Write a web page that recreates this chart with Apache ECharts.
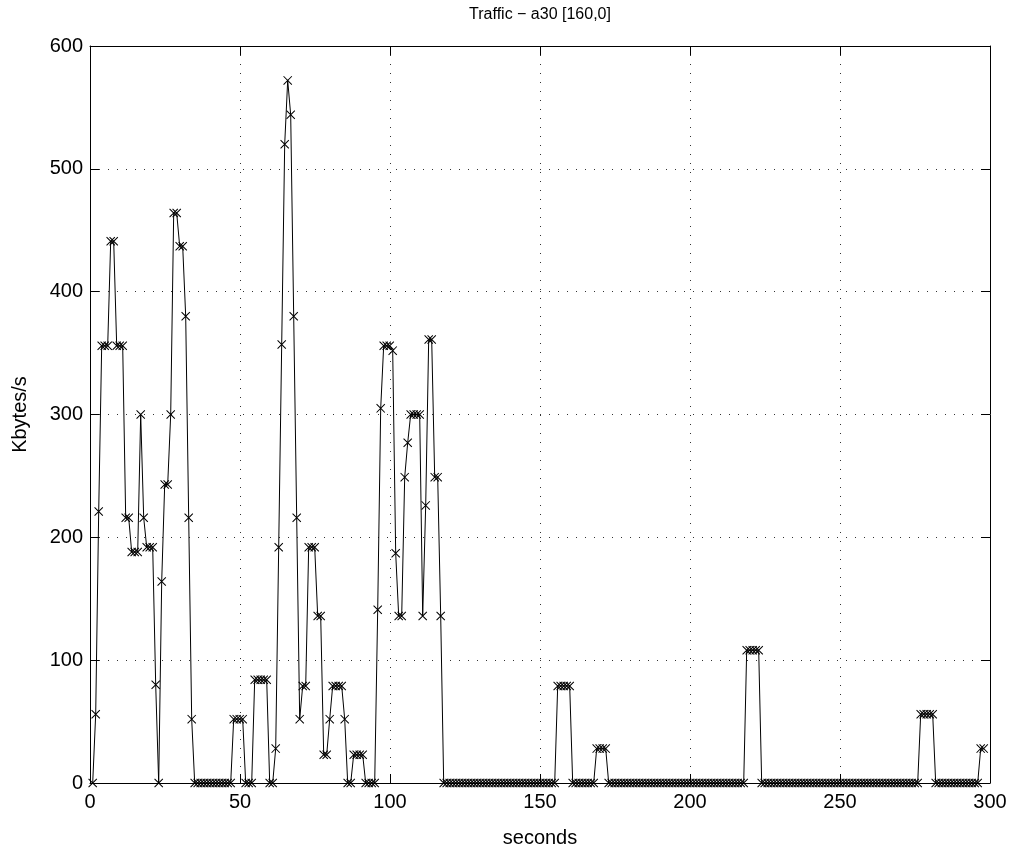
<!DOCTYPE html>
<html><head><meta charset="utf-8">
<script src="https://cdn.jsdelivr.net/npm/echarts@6/dist/echarts.min.js"></script>
<style>html,body{margin:0;padding:0;background:#fff}#c{width:1011px;height:853px}</style>
</head><body><div id="c"></div>
<script>
const chartTitle = 'Traffic \u2212 a30 [160,0]';
const xLabel = 'seconds';
const yLabel = 'Kbytes/s';
const xTicks = [0, 50, 100, 150, 200, 250, 300];
const yTicks = [0, 100, 200, 300, 400, 500, 600];
const sampleStart = 0.9;
const sampleStep = 1;
const traffic = [
  0, 56, 221, 356, 356, 356, 441, 441, 356, 356,
  356, 216, 216, 188, 188, 188, 300, 216, 192, 192,
  192, 80, 0, 164, 243, 243, 300, 464, 464, 437,
  437, 380, 216, 52, 0, 0, 0, 0, 0, 0,
  0, 0, 0, 0, 0, 0, 0, 52, 52, 52,
  52, 0, 0, 0, 84, 84, 84, 84, 84, 0,
  0, 28, 192, 357, 520, 572, 544, 380, 216, 52,
  79, 79, 192, 192, 192, 136, 136, 23, 23, 52,
  79, 79, 79, 79, 52, 0, 0, 23, 23, 23,
  23, 0, 0, 0, 0, 141, 305, 356, 356, 356,
  352, 187, 136, 136, 249, 277, 300, 300, 300, 300,
  136, 226, 361, 361, 249, 249, 136, 0, 0, 0,
  0, 0, 0, 0, 0, 0, 0, 0, 0, 0,
  0, 0, 0, 0, 0, 0, 0, 0, 0, 0,
  0, 0, 0, 0, 0, 0, 0, 0, 0, 0,
  0, 0, 0, 0, 0, 79, 79, 79, 79, 79,
  0, 0, 0, 0, 0, 0, 0, 0, 28, 28,
  28, 28, 0, 0, 0, 0, 0, 0, 0, 0,
  0, 0, 0, 0, 0, 0, 0, 0, 0, 0,
  0, 0, 0, 0, 0, 0, 0, 0, 0, 0,
  0, 0, 0, 0, 0, 0, 0, 0, 0, 0,
  0, 0, 0, 0, 0, 0, 0, 0, 108, 108,
  108, 108, 108, 0, 0, 0, 0, 0, 0, 0,
  0, 0, 0, 0, 0, 0, 0, 0, 0, 0,
  0, 0, 0, 0, 0, 0, 0, 0, 0, 0,
  0, 0, 0, 0, 0, 0, 0, 0, 0, 0,
  0, 0, 0, 0, 0, 0, 0, 0, 0, 0,
  0, 0, 0, 0, 0, 0, 56, 56, 56, 56,
  56, 0, 0, 0, 0, 0, 0, 0, 0, 0,
  0, 0, 0, 0, 0, 0, 28, 28
];

const FONT = "'Liberation Sans', Arial, Helvetica, sans-serif";
const seriesData = traffic.map((v, i) => [sampleStart + i * sampleStep, v]);
const xStep = xTicks[1] - xTicks[0];
const yStep = yTicks[1] - yTicks[0];

const chart = echarts.init(document.getElementById('c'), null, {renderer: 'canvas'});

const gridDots = {show: true, lineStyle: {color: '#333', width: 1, type: [1, 8]}};
const axisCommon = {
  axisLine: {show: true, onZero: false, lineStyle: {color: '#000', width: 1}},
  axisTick: {show: true, inside: true, length: 9, lineStyle: {color: '#000', width: 1}},
};

chart.setOption({
  animation: false,
  backgroundColor: '#fff',
  grid: {left: 90, right: 21, top: 46, bottom: 65.5, containLabel: false},
  graphic: [{
    type: 'text', x: 540, y: 15,
    style: {text: chartTitle, textAlign: 'center', textVerticalAlign: 'middle',
            font: '16px ' + FONT, fill: '#000'}
  }],
  xAxis: [
    Object.assign({
      type: 'value', position: 'bottom', min: xTicks[0], max: xTicks[xTicks.length - 1], interval: xStep,
      name: xLabel, nameLocation: 'middle', nameGap: 45,
      nameTextStyle: {color: '#000', fontSize: 20, fontFamily: FONT},
      axisLabel: {color: '#000', fontSize: 20, fontFamily: FONT, margin: 9},
      splitLine: gridDots
    }, axisCommon),
    Object.assign({
      type: 'value', position: 'top', min: xTicks[0], max: xTicks[xTicks.length - 1], interval: xStep,
      axisLabel: {show: false}, splitLine: {show: false}
    }, axisCommon)
  ],
  yAxis: [
    Object.assign({
      type: 'value', position: 'left', min: yTicks[0], max: yTicks[yTicks.length - 1], interval: yStep,
      name: yLabel, nameLocation: 'middle', nameGap: 60,
      nameTextStyle: {color: '#000', fontSize: 20, fontFamily: FONT},
      axisLabel: {color: '#000', fontSize: 20, fontFamily: FONT, margin: 7},
      splitLine: gridDots
    }, axisCommon),
    Object.assign({
      type: 'value', position: 'right', min: yTicks[0], max: yTicks[yTicks.length - 1], interval: yStep,
      axisLabel: {show: false}, splitLine: {show: false}
    }, axisCommon)
  ],
  series: [{
    type: 'line',
    xAxisIndex: 0, yAxisIndex: 0,
    data: seriesData,
    showAllSymbol: true,
    symbol: 'path://M0,0.8L0.8,0L10,9.2L9.2,10Z M9.2,0L10,0.8L0.8,10L0,9.2Z',
    symbolSize: 9,
    symbolKeepAspect: true,
    lineStyle: {color: '#000', width: 1},
    itemStyle: {color: '#000'},
    silent: true
  }]
});
</script>
</body></html>
